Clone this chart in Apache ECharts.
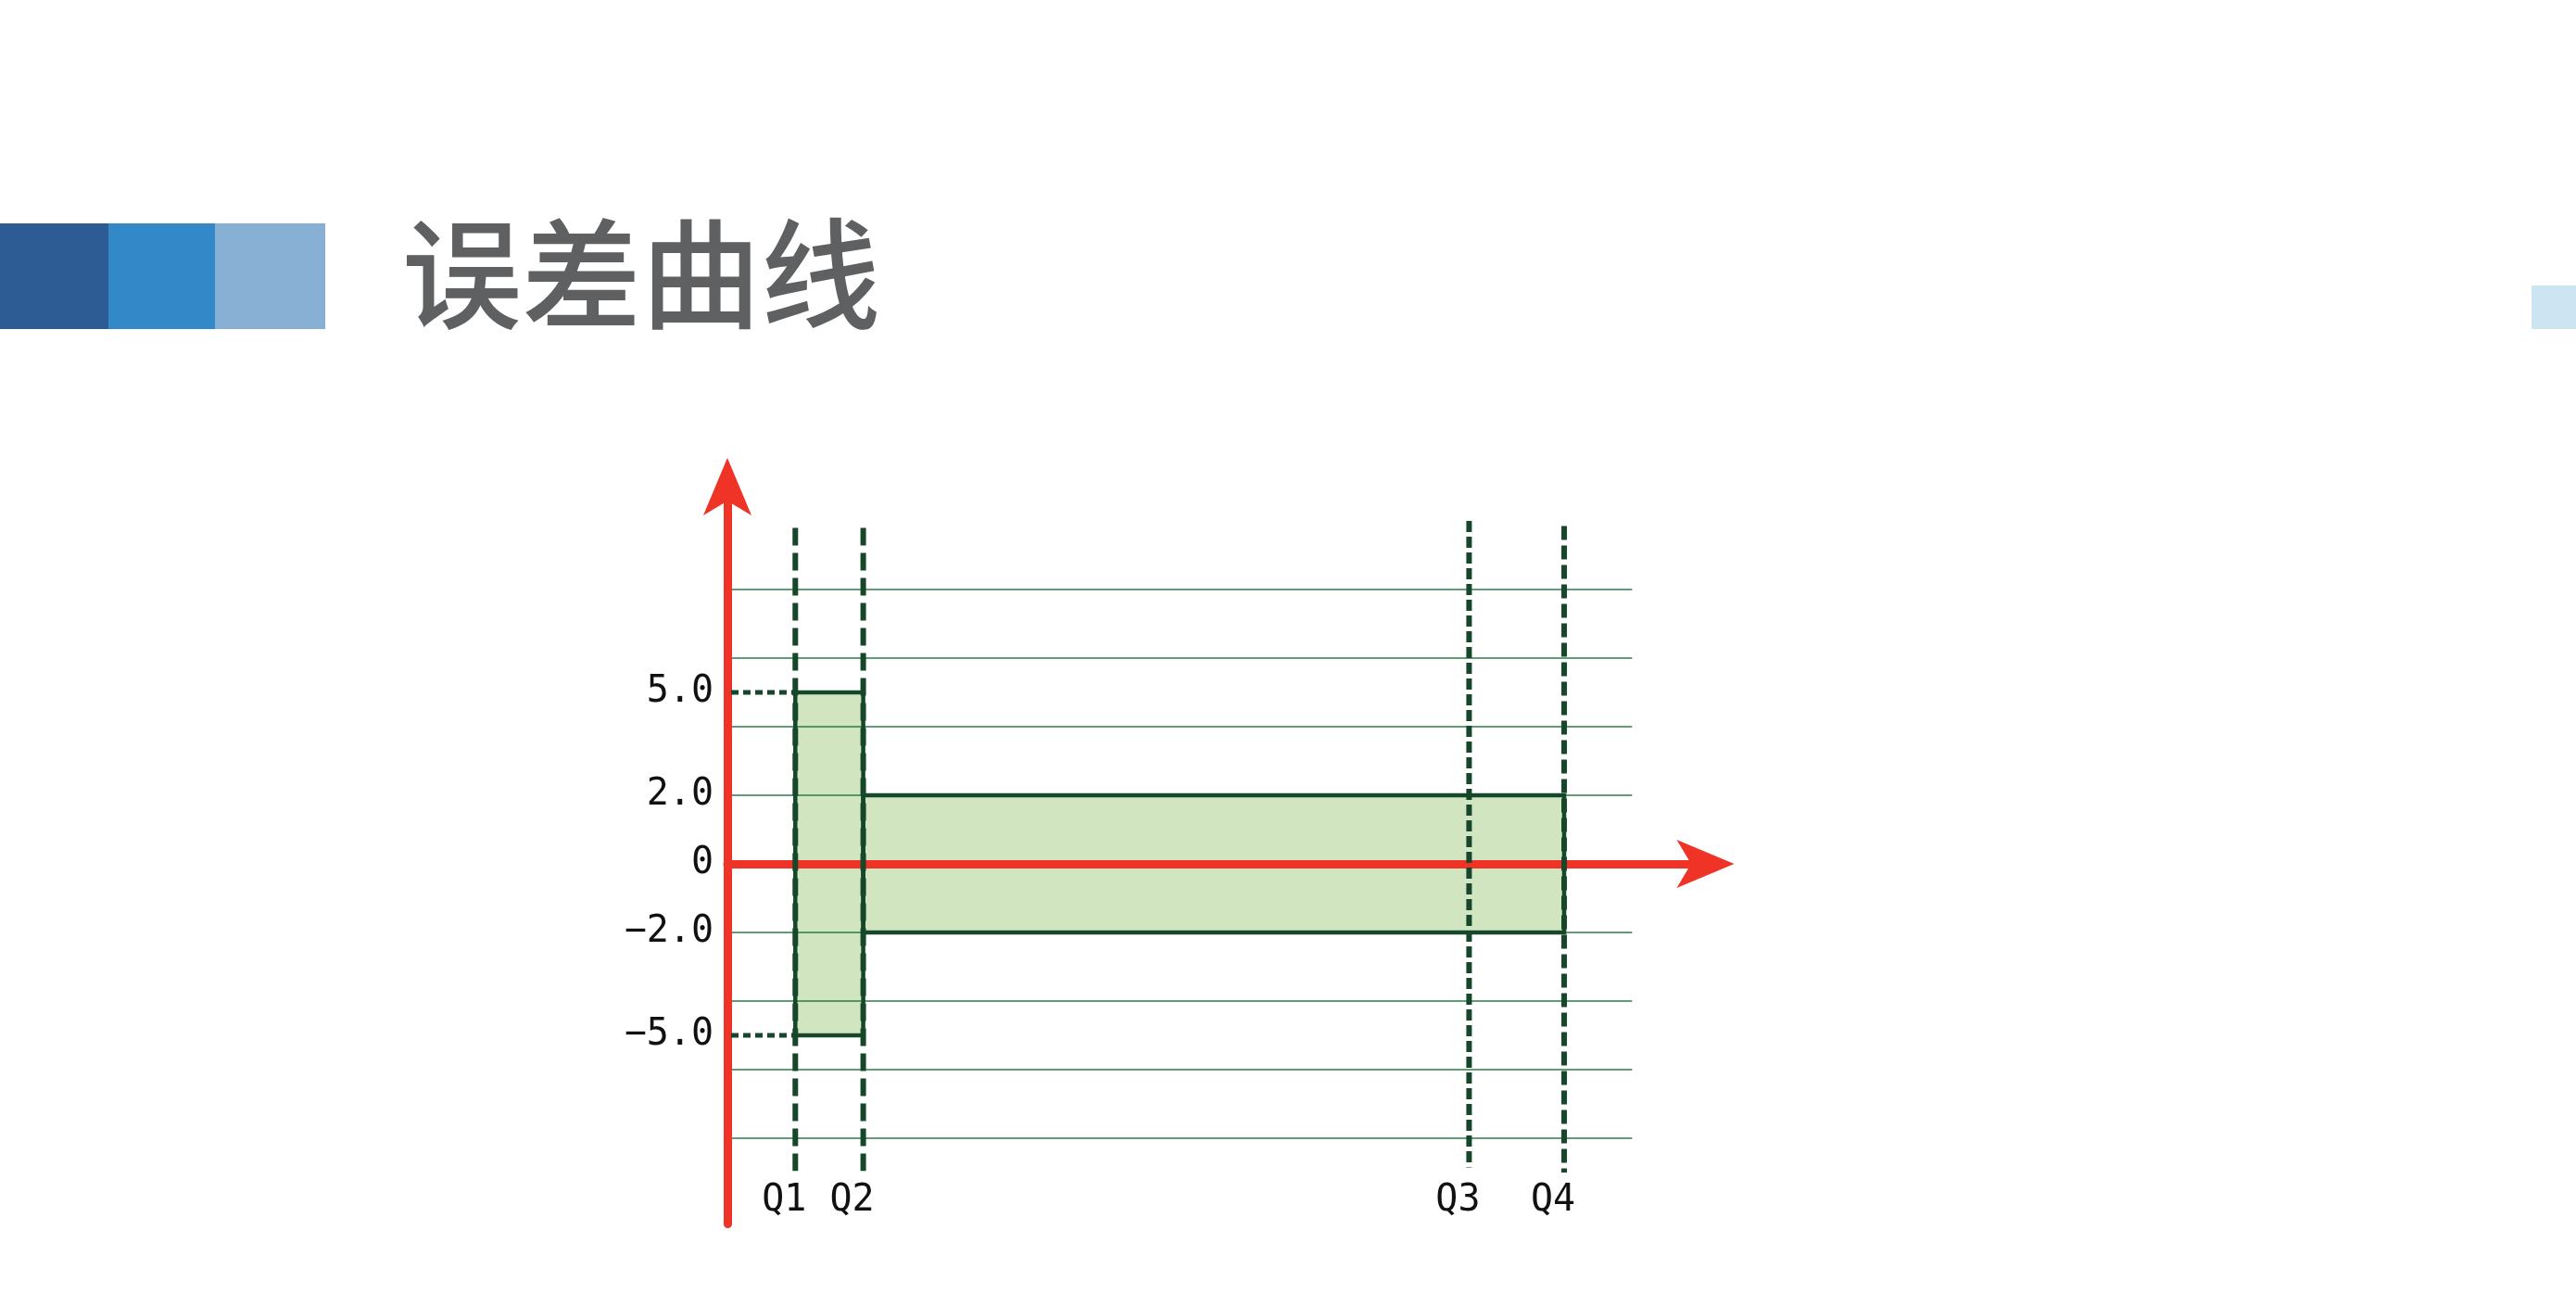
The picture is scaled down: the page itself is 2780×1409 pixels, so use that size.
<!DOCTYPE html>
<html>
<head>
<meta charset="utf-8">
<title>误差曲线</title>
<script src="https://cdn.jsdelivr.net/npm/echarts@6/dist/echarts.min.js"></script>
<style>
  html, body { margin: 0; padding: 0; background: #fff; }
  #main { width: 2780px; height: 1409px; }
</style>
</head>
<body>
<div id="main"></div>
<script>
// positions of the four marks along x (arbitrary units)
var Q_NAMES = ['Q1', 'Q2', 'Q3', 'Q4'];
var Q_POS = [1.0, 2.0, 10.92, 12.32];
var Q_TOP = [9.8, 9.8, 10.0, 9.85];
var Q_BOTTOM = [-8.95, -8.95, -8.85, -9.0];

// tolerance bands: [xStart, xEnd, low, high]
var BANDS = [
	[1.0, 2.0, -5, 5],
	[2.0, 12.32, -2, 2]
];

var Y_LABELS = [5, 2, 0, -2, -5];
var GRID_VALUES = [8, 6, 4, 2, -2, -4, -6, -8];
var GRID_END = 13.32;

var X_RANGE = [0, 14.4];
var Y_RANGE = [-10.5, 11];

// styles
var RED = '#ef3326';
var DARK = '#17472a';
var Q_DASH = [[19, 8], [19, 8], [12, 5], [15, 6]];
var ARROW = { symbol: ['none', 'arrow'], symbolSize: [39, 62], symbolOffset: [0, 31] };

function yFormat(v) {
	if (v == 0) return '0';
	return (v < 0 ? '\u2212' : '') + Math.abs(v).toFixed(1);
}

var myChart = echarts.init(document.getElementById('main'));

var option = {
	animation: false,
	backgroundColor: '#fff',
	grid: { left: 785, right: 939.5, top: 525, bottom: 88.5 },
	xAxis: [{
		type: 'value', min: X_RANGE[0], max: X_RANGE[1], z: 4,
		axisLine: { onZero: true, symbol: ARROW.symbol, symbolSize: ARROW.symbolSize, symbolOffset: ARROW.symbolOffset,
			lineStyle: { color: RED, width: 9 } },
		axisTick: { show: false }, axisLabel: { show: false }, splitLine: { show: false }
	}, {
		type: 'value', min: X_RANGE[0], max: X_RANGE[1], position: 'bottom',
		axisLine: { show: false, onZero: false },
		axisTick: { show: false }, splitLine: { show: false },
		axisLabel: {
			inside: true, margin: 5, customValues: Q_POS,
			fontFamily: 'DejaVu Sans Mono', fontSize: 40, color: '#111',
			padding: [0, 24, 0, 0],
			formatter: function(v) { return Q_NAMES[Q_POS.indexOf(v)]; }
		}
	}],
	yAxis: {
		type: 'value', min: Y_RANGE[0], max: Y_RANGE[1], z: 4,
		axisLine: { onZero: false, symbol: ARROW.symbol, symbolSize: ARROW.symbolSize, symbolOffset: ARROW.symbolOffset,
			lineStyle: { color: RED, width: 9 } },
		axisTick: { show: false }, splitLine: { show: false },
		axisLabel: {
			customValues: Y_LABELS, margin: 15,
			fontFamily: 'DejaVu Sans Mono', fontSize: 40, color: '#111',
			padding: [18, 0, 0, 0],
			formatter: yFormat
		}
	},
	graphic: [
		{ type: 'rect', shape: { x: 0, y: 241, width: 118, height: 114 }, style: { fill: '#2d5c94' } },
		{ type: 'rect', shape: { x: 117, y: 241, width: 116, height: 114 }, style: { fill: '#3388c8' } },
		{ type: 'rect', shape: { x: 232, y: 241, width: 119, height: 114 }, style: { fill: '#87b0d4' } },
		{ type: 'rect', shape: { x: 2732, y: 308, width: 48, height: 47 }, style: { fill: '#cde4f2' } },
		{ type: 'text', x: 434, y: 296, style: {
			text: '误差曲线', fill: '#5f6062', font: '500 129px "Noto Sans CJK SC"',
			verticalAlign: 'middle' } }
	],
	series: [{
		// band fill
		type: 'custom', z: 1, data: BANDS,
		renderItem: function(params, api) {
			var p0 = api.coord([api.value(0), api.value(3)]);
			var p1 = api.coord([api.value(1), api.value(2)]);
			return { type: 'rect', shape: { x: p0[0], y: p0[1], width: p1[0] - p0[0], height: p1[1] - p0[1] },
				style: { fill: '#d1e6c0' } };
		}
	}, {
		// horizontal grid
		type: 'custom', z: 2, data: GRID_VALUES.map(function(v) { return [X_RANGE[0], GRID_END, v]; }),
		renderItem: function(params, api) {
			var a = api.coord([api.value(0), api.value(2)]);
			var b = api.coord([api.value(1), api.value(2)]);
			return { type: 'line', shape: { x1: a[0], y1: a[1], x2: b[0], y2: b[1] },
				style: { stroke: '#2b7b46', lineWidth: 1.5 } };
		}
	}, {
		// band outline
		type: 'custom', z: 3, data: BANDS,
		renderItem: function(params, api) {
			var p0 = api.coord([api.value(0), api.value(3)]);
			var p1 = api.coord([api.value(1), api.value(2)]);
			return { type: 'rect', shape: { x: p0[0], y: p0[1], width: p1[0] - p0[0], height: p1[1] - p0[1] },
				style: { fill: null, stroke: DARK, lineWidth: 4.5 } };
		}
	}, {
		// dotted leaders from y axis to the outer band limits
		type: 'custom', z: 5, data: [[X_RANGE[0], BANDS[0][0], BANDS[0][3]], [X_RANGE[0], BANDS[0][0], BANDS[0][2]]],
		renderItem: function(params, api) {
			var a = api.coord([api.value(0), api.value(2)]);
			var b = api.coord([api.value(1), api.value(2)]);
			return { type: 'line', shape: { x1: a[0] + 4, y1: a[1], x2: b[0], y2: b[1] },
				style: { stroke: DARK, lineWidth: 5, lineDash: [8, 5] } };
		}
	}, {
		// dashed verticals at Q1..Q4
		type: 'custom', z: 5,
		data: Q_POS.map(function(x, i) { return [x, Q_BOTTOM[i], Q_TOP[i]]; }),
		renderItem: function(params, api) {
			var a = api.coord([api.value(0), api.value(2)]);
			var b = api.coord([api.value(0), api.value(1)]);
			return { type: 'line', shape: { x1: a[0], y1: a[1], x2: b[0], y2: b[1] },
				style: { stroke: DARK, lineWidth: 6, lineDash: Q_DASH[params.dataIndex] } };
		}
	}]
};

myChart.setOption(option);
</script>
</body>
</html>
